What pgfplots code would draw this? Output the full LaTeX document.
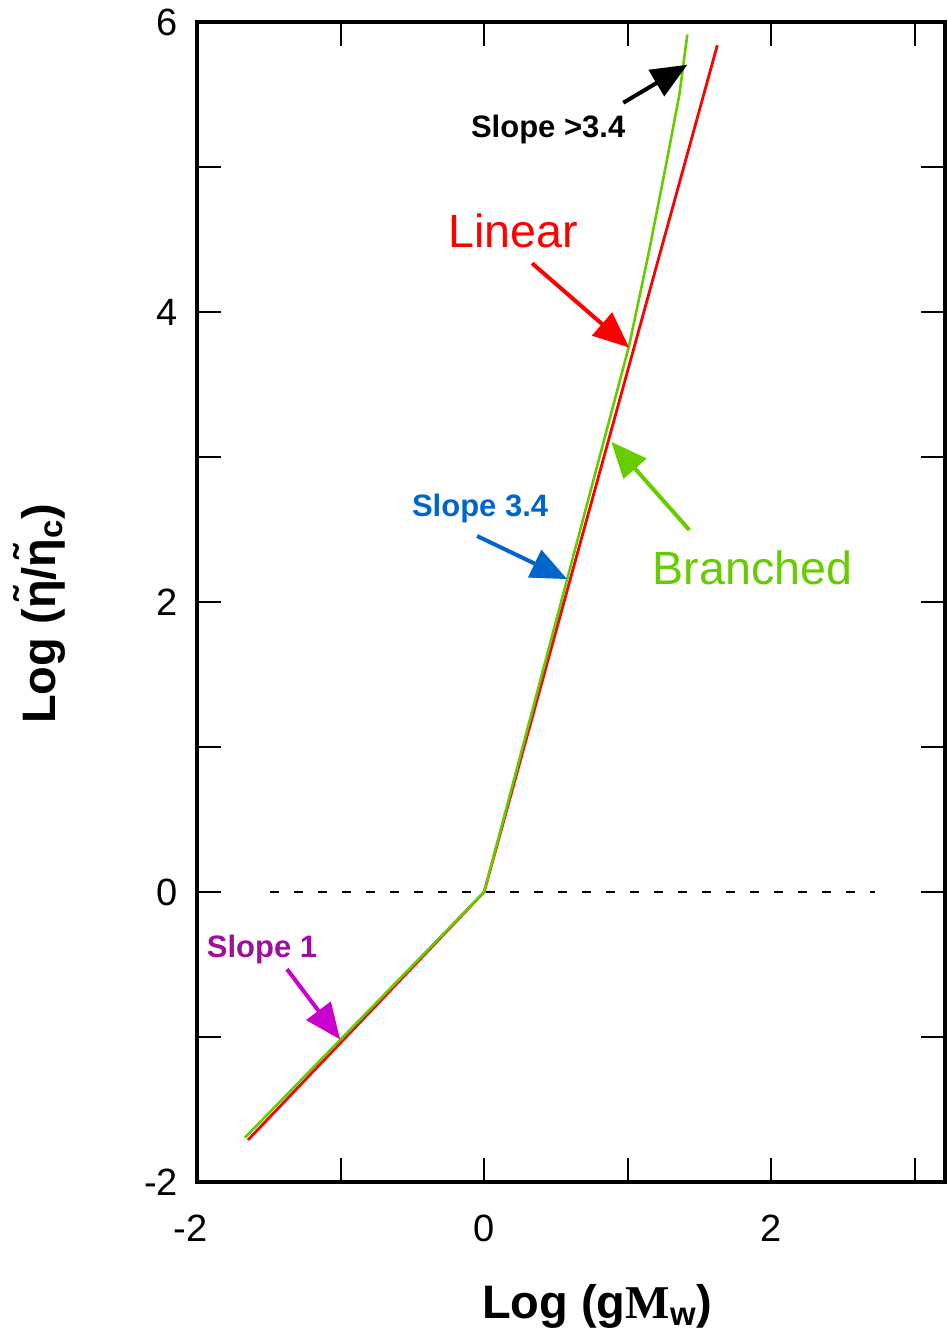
\documentclass[border=0pt]{standalone}
\usepackage{fontspec}
\setmainfont{Liberation Sans}
\newfontfamily\serifM{Liberation Serif}
\usepackage{pgfplots}
\pgfplotsset{compat=1.18}
\usetikzlibrary{arrows.meta}
\definecolor{lred}{HTML}{FF0000}
\definecolor{bgreen}{HTML}{66CC00}
\definecolor{sblue}{HTML}{0066CC}
\definecolor{smag}{HTML}{CC00CC}
\definecolor{spurp}{HTML}{9C109C}
\begin{document}
\begin{tikzpicture}
\begin{axis}[
  name=ax,
  scale only axis, width=374pt, height=580pt,
  xmin=-2, xmax=3.21, ymin=-2, ymax=6,
  clip=false,
  axis line style={line width=2pt},
  xtick={-2,-1,0,1,2,3}, xticklabels={\llap{-}2,,0,,2,},
  ytick={-2,-1,0,1,2,3,4,5,6}, yticklabels={-2,,0,,2,,4,,6},
  xtick pos=both, ytick pos=both,
  xticklabel pos=lower, yticklabel pos=left,
  tick align=inside,
  major tick length=12pt,
  tick style={line width=1pt, black},
  /pgf/number format/assume math mode=true,
  ticklabel style={font=\fontsize{19}{22}\selectfont},
  yticklabel style={xshift=-6pt},
  xticklabel style={yshift=-13pt},
  xlabel={\textbf{Log (g{\serifM\bfseries M}\textsubscript{w})}},
  ylabel={\textbf{Log (η̃/η̃\textsubscript{c})}},
  label style={font=\fontsize{23.5}{28}\selectfont},
  xlabel style={at={(axis description cs:0.535,0)}, anchor=base, yshift=-68pt},
  ylabel style={at={(axis description cs:-0.2112,0.49)}, anchor=center},
]
% dashed reference line at y = 0
\addplot[black, line width=1pt, dash pattern=on 4.5pt off 7.5pt] coordinates {(-1.491,0) (2.725,0)};
% Linear
\addplot[lred, line width=1.4pt] coordinates {(-1.645,-1.71) (0,0) (1.624,5.84)};
% Branched
\addplot[bgreen, line width=1.3pt] coordinates {(-1.666,-1.694) (0,0) (1.010,3.769) (1.150,4.426) (1.260,4.98) (1.360,5.50) (1.415,5.913)};

% annotations
\draw[-{Triangle[length=18pt,width=15pt]}, line width=2pt, black] (axis cs:0.969,5.443) -- (axis cs:1.415,5.705);
\node[anchor=base, black, font=\fontsize{15.5}{18}\selectfont\bfseries] at (axis cs:0.446,5.20) {Slope >3.4};

\draw[-{Triangle[length=18pt,width=15pt]}, line width=2pt, lred] (axis cs:0.334,4.336) -- (axis cs:1.010,3.755);
\node[anchor=base, lred, font=\fontsize{23.3}{28}\selectfont] at (axis cs:0.202,4.447) {Linear};

\draw[-{Triangle[length=18pt,width=15pt]}, line width=2pt, sblue] (axis cs:-0.049,2.455) -- (axis cs:0.578,2.158);
\node[anchor=base, sblue, font=\fontsize{15.5}{18}\selectfont\bfseries] at (axis cs:-0.028,2.593) {Slope 3.4};

\draw[-{Triangle[length=18pt,width=15pt]}, line width=2pt, bgreen] (axis cs:1.429,2.497) -- (axis cs:0.885,3.105);
\node[anchor=base, bgreen, font=\fontsize{23.3}{28}\selectfont] at (axis cs:1.868,2.123) {Branched};

\draw[-{Triangle[length=18pt,width=15pt]}, line width=2pt, smag] (axis cs:-1.373,-0.532) -- (axis cs:-1.003,-1.017);
\node[anchor=base, spurp, font=\fontsize{15.5}{18}\selectfont\bfseries] at (axis cs:-1.547,-0.450) {Slope 1};
\end{axis}
\path ([xshift=-98.5pt,yshift=-80pt]ax.south west) rectangle ([xshift=1pt,yshift=11pt]ax.north east);
\end{tikzpicture}
\end{document}
